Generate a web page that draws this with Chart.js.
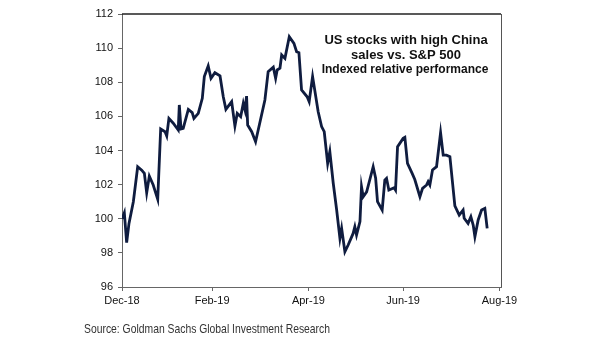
<!DOCTYPE html>
<html>
<head>
<meta charset="utf-8">
<script src="https://cdn.jsdelivr.net/npm/chart.js@4"></script>
<style>
  html, body { margin: 0; padding: 0; background: #fff; }
  #wrap { width: 605px; height: 341px; position: relative; }
</style>
</head>
<body>
<div id="wrap"><canvas id="chart" width="605" height="341"></canvas></div>
<script>
// days counted from the Dec-18 tick
const days = [0, 1.5, 3.0, 4.5, 7.3, 10.1, 12.7, 14.4, 15.9, 17.6, 20.1, 23.0, 24.9, 27.7, 28.8,
  30.2, 33.0, 36.2, 36.9, 38.0, 39.4, 42.7, 45.2, 46.3, 49.1, 51.7, 53.0, 55.5, 57.3, 59.8,
  63.1, 65.2, 66.9, 70.6, 72.7, 74.2, 76.4, 78.1, 79.2, 80.2, 80.9, 83.5, 86.0, 92.0, 94.1,
  97.4, 98.9, 99.9, 101.7, 102.8, 104.9, 107.7, 110.7, 112.4, 113.9, 115.6, 119.2, 120.5, 122.7, 126.3,
  128.5, 130.2, 132.4, 133.8, 136.0, 138.2, 140.3, 141.4, 143.5, 145.6, 148.8, 149.9, 151.0, 153.2, 154.2,
  155.3, 157.5, 161.7, 163.3, 164.5, 167.5, 169.2, 170.3, 171.8, 175.2, 176.1, 177.4, 181.0, 182.1, 183.8,
  186.8, 188.5, 191.8, 193.5, 196.1, 197.1, 198.2, 199.9, 202.5, 205.1, 206.8, 208.9, 211.1, 214.3, 217.1,
  219.6, 220.3, 222.8, 224.6, 226.1, 227.2, 229.3, 231.5, 233.6, 235.1];

const relPerf = [100.0, 100.35, 98.6, 99.73, 101.0, 103.05, 102.85, 102.66, 101.52, 102.5, 101.98, 101.14, 105.26, 105.1, 104.85,
  105.88, 105.6, 105.2, 106.67, 105.26, 105.3, 106.41, 106.22, 105.88, 106.18, 107.06, 108.33, 108.95, 108.23, 108.56,
  108.37, 107.15, 106.41, 106.86, 105.43, 106.18, 105.98, 106.77, 106.37, 107.19, 105.49, 105.1, 104.51, 106.96, 108.62,
  108.88, 108.23, 108.72, 108.82, 109.6, 109.4, 110.67, 110.28, 109.79, 109.73, 107.55, 107.15, 106.86, 108.33, 106.27,
  105.4, 105.1, 103.25, 103.93, 102.08, 100.51, 98.85, 99.44, 98.07, 98.46, 99.14, 99.53, 99.05, 99.83, 101.88,
  101.29, 101.58, 103.05, 102.37, 101.0, 100.51, 102.27, 102.37, 101.68, 101.82, 101.68, 104.22, 104.71, 104.77, 103.25,
  102.66, 102.3, 101.29, 101.78, 101.98, 102.17, 101.98, 102.86, 103.05, 105.04, 103.73, 103.73, 103.64, 100.75, 100.22,
  100.51, 100.03, 99.73, 100.12, 99.63, 98.95, 99.93, 100.51, 100.61, 99.44];

const tickDays = [0, 58, 120, 181, 243];
const tickLabels = ['Dec-18', 'Feb-19', 'Apr-19', 'Jun-19', 'Aug-19'];
const titleLines = ['US stocks with high China', 'sales vs. S&P 500', 'Indexed relative performance'];
const sourceText = 'Source: Goldman Sachs Global Investment Research';

const points = days.map((d, i) => ({ x: d, y: relPerf[i] }));

// draw text squeezed to a given width (the source font is a narrow one)
function fitText(c, text, x, y, w) {
  const m = c.measureText(text).width;
  const k = Math.min(1, w / m);
  c.save();
  c.translate(x, y);
  c.scale(k, 1);
  c.fillText(text, 0, 0);
  c.restore();
}

// frame on top and right + the text block inside the plot
const extras = {
  id: 'extras',
  afterDraw(chart) {
    const c = chart.ctx, a = chart.chartArea;
    c.save();
    c.strokeStyle = '#222';
    c.lineWidth = 1.5;
    c.beginPath();
    c.moveTo(a.left, a.top);
    c.lineTo(a.right, a.top);
    c.stroke();
    c.strokeStyle = '#555';
    c.lineWidth = 1;
    c.beginPath();
    c.moveTo(a.right + 0.5, a.top);
    c.lineTo(a.right + 0.5, a.bottom);
    c.stroke();

    c.fillStyle = '#111';
    c.textAlign = 'center';
    c.textBaseline = 'middle';
    c.font = 'bold 13px "Liberation Sans", Arial, sans-serif';
    c.fillText(titleLines[0], 406, 40);
    c.fillText(titleLines[1], 406, 55);
    c.font = 'bold 12px "Liberation Sans", Arial, sans-serif';
    c.fillText(titleLines[2], 405, 70);

    c.textAlign = 'left';
    c.fillStyle = '#333';
    c.font = '13px "Liberation Sans", Arial, sans-serif';
    fitText(c, sourceText, 84, 329, 246);
    c.restore();
  }
};

new Chart(document.getElementById('chart'), {
  type: 'line',
  data: {
    datasets: [{
      data: points,
      borderColor: '#0f1c3f',
      borderWidth: 2.8,
      pointRadius: 0,
      tension: 0,
      fill: false
    }]
  },
  options: {
    responsive: false,
    animation: false,
    layout: { padding: { left: 0, top: 14, right: 104, bottom: 0 } },
    plugins: { legend: { display: false }, tooltip: { enabled: false } },
    scales: {
      x: {
        type: 'linear',
        min: 0,
        max: 244,
        afterBuildTicks: s => { s.ticks = tickDays.map(v => ({ value: v })); },
        afterFit: s => { s.height = 54; },
        grid: { drawOnChartArea: false, drawTicks: true, tickLength: 4, color: '#666' },
        border: { color: '#666', width: 1 },
        ticks: {
          padding: 3,
          color: '#111',
          font: { family: '"Liberation Sans", Arial, sans-serif', size: 11 },
          callback: v => tickLabels[tickDays.indexOf(v)] || ''
        }
      },
      y: {
        min: 96,
        max: 112,
        afterFit: s => { s.width = 122; },
        grid: { drawOnChartArea: false, drawTicks: true, tickLength: 4, color: '#666' },
        border: { color: '#666', width: 1 },
        ticks: {
          stepSize: 2,
          padding: 5,
          color: '#111',
          font: { family: '"Liberation Sans", Arial, sans-serif', size: 11 }
        }
      }
    }
  },
  plugins: [extras]
});
</script>
</body>
</html>
